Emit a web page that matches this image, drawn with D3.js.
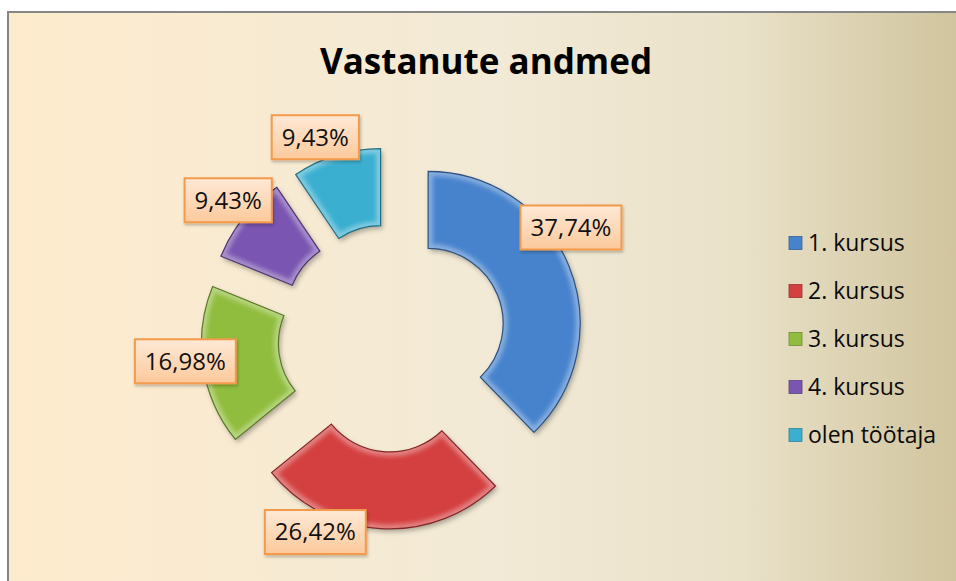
<!doctype html>
<html>
<head>
<meta charset="utf-8">
<script src="https://cdn.jsdelivr.net/npm/d3@7"></script>
<style>
  body { margin: 0; background: #fff; }
  svg { display: block; font-family: "Open Sans", sans-serif; }
</style>
</head>
<body>
<script>
const width = 956;
const height = 581;

// data
const categories = ["1. kursus", "2. kursus", "3. kursus", "4. kursus", "olen töötaja"];
const shares = [37.74, 26.42, 16.98, 9.43, 9.43];
const colors = ["#4683cd", "#d43f40", "#90bd3e", "#7a55b1", "#3aafd0"];

// label placement tweaks (degrees off mid angle, radius from slice centre)
const labelNudge = [[-11.8, 172], [22.2, 172], [2.5, 169], [1.2, 175], [-4.8, 176]];

const cx = 392, cy = 338;
const explode = 39;
const rOuter = 152, rInner = 75;

const svg = d3.select("body").append("svg")
    .attr("width", width)
    .attr("height", height);

const defs = svg.append("defs");

const bg = defs.append("linearGradient").attr("id", "bg");
[[0, "#feebcd"], [0.5, "#f2ead6"], [0.76, "#e9e1c8"], [1, "#cfc29b"]].forEach(([o, c]) =>
  bg.append("stop").attr("offset", o).attr("stop-color", c));

const box = defs.append("linearGradient").attr("id", "box").attr("x1", 0).attr("x2", 0).attr("y1", 0).attr("y2", 1);
box.append("stop").attr("offset", 0).attr("stop-color", "#fee9d6");
box.append("stop").attr("offset", 1).attr("stop-color", "#fcc99b");

const shadow = defs.append("filter").attr("id", "shadow")
    .attr("x", "-20%").attr("y", "-20%").attr("width", "140%").attr("height", "140%");
shadow.append("feDropShadow").attr("dx", 2).attr("dy", 3).attr("stdDeviation", 2.5)
    .attr("flood-color", "#000").attr("flood-opacity", 0.3);

const soft = defs.append("filter").attr("id", "soft");
soft.append("feGaussianBlur").attr("stdDeviation", 2.2);

const boxShadow = defs.append("filter").attr("id", "boxShadow")
    .attr("x", "-20%").attr("y", "-30%").attr("width", "140%").attr("height", "160%");
boxShadow.append("feDropShadow").attr("dx", 1).attr("dy", 2).attr("stdDeviation", 1.5)
    .attr("flood-color", "#000").attr("flood-opacity", 0.25);

// background panel
svg.append("rect")
    .attr("x", 8).attr("y", 12)
    .attr("width", width + 10).attr("height", height + 10)
    .attr("fill", "url(#bg)")
    .attr("stroke", "#868686").attr("stroke-width", 2);

svg.append("text")
    .attr("x", 486).attr("y", 74)
    .attr("text-anchor", "middle")
    .attr("font-size", 35).attr("font-weight", 700)
    .attr("fill", "#000")
    .text("Vastanute andmed");

const pie = d3.pie().sort(null).value(d => d)(shares);
const arc = d3.arc().innerRadius(rInner).outerRadius(rOuter);
const mid = d => (d.startAngle + d.endAngle) / 2;

const slice = svg.append("g").selectAll("g")
  .data(pie)
  .join("g")
    .attr("transform", d => {
      const a = mid(d);
      return `translate(${cx + explode * Math.sin(a)},${cy - explode * Math.cos(a)})`;
    });

slice.append("clipPath")
    .attr("id", (d, i) => `clip${i}`)
  .append("path")
    .attr("d", arc);

slice.append("path")
    .attr("d", arc)
    .attr("fill", (d, i) => colors[i])
    .attr("filter", "url(#shadow)");

// bevel: soft light rim inside the edge, darker outline
slice.append("g")
    .attr("clip-path", (d, i) => `url(#clip${i})`)
  .append("path")
    .attr("d", arc)
    .attr("fill", "none")
    .attr("stroke", "#fff")
    .attr("stroke-opacity", 0.35)
    .attr("stroke-width", 9)
    .attr("filter", "url(#soft)");

slice.append("path")
    .attr("d", arc)
    .attr("fill", "none")
    .attr("stroke", (d, i) => d3.color(colors[i]).darker(1.3))
    .attr("stroke-width", 1.2);

// labels
const fmt = v => v.toFixed(2).replace(".", ",") + "%";
const label = svg.append("g").selectAll("g")
  .data(pie)
  .join("g")
    .attr("transform", (d, i) => {
      const a = mid(d);
      const sx = cx + explode * Math.sin(a), sy = cy - explode * Math.cos(a);
      const [da, r] = labelNudge[i];
      const b = a + da * Math.PI / 180;
      return `translate(${sx + r * Math.sin(b)},${sy - r * Math.cos(b)})`;
    });

const rects = label.append("rect")
    .attr("fill", "url(#box)")
    .attr("stroke", "#f39a4c")
    .attr("stroke-width", 2)
    .attr("filter", "url(#boxShadow)");

const texts = label.append("text")
    .attr("text-anchor", "middle")
    .attr("dy", "0.35em")
    .attr("font-size", 24)
    .attr("fill", "#111")
    .text(d => fmt(d.data));

texts.each(function(d, i) {
  const w = this.getComputedTextLength() + 20;
  d3.select(rects.nodes()[i])
      .attr("x", -w / 2).attr("y", -22)
      .attr("width", w).attr("height", 44);
});

// legend
const legend = svg.append("g").selectAll("g")
  .data(categories)
  .join("g")
    .attr("transform", (d, i) => `translate(789,${243 + i * 48})`);

legend.append("rect")
    .attr("x", 0).attr("y", -6.5)
    .attr("width", 13).attr("height", 13)
    .attr("fill", (d, i) => colors[i])
    .attr("stroke", (d, i) => d3.color(colors[i]).darker(0.8))
    .attr("stroke-width", 0.8);

legend.append("text")
    .attr("x", 19)
    .attr("dy", "0.36em")
    .attr("font-size", 23)
    .attr("fill", "#0a0a0a")
    .text(d => d);
</script>
</body>
</html>
